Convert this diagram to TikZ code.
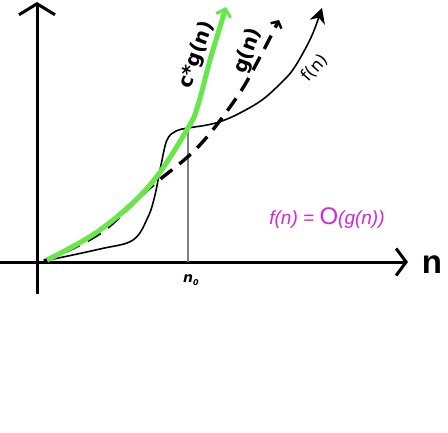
\documentclass[tikz,border=0pt]{standalone}
\usepackage{fontspec}
\setmainfont{DejaVu Sans}
\newfontfamily\lib{Liberation Sans}
\usetikzlibrary{arrows.meta}
\definecolor{lgreen}{RGB}{102,232,72}
\definecolor{mag}{RGB}{214,38,214}
\begin{document}
\begin{tikzpicture}[x=1pt,y=-1pt,
  axis/.style={line width=3pt},
  fcurve/.style={line width=1.6pt},
  gcurve/.style={line width=3.4pt, dash pattern=on 15pt off 9pt},
  cgcurve/.style={lgreen, line width=5pt},
  lbl/.style={inner sep=0pt}]
\useasboundingbox (0,0) rectangle (448,432);
\fill[white] (0,0) rectangle (448,432);
\coordinate (ytop) at (37,2);
\coordinate (ybot) at (37,294);
\coordinate (xl) at (0,262);
\coordinate (xr) at (408,262);
\coordinate (n0top) at (188,128);
\coordinate (n0bot) at (188,262);
\draw[axis,-{Straight Barb[length=11pt,width=36pt,line width=3pt]}] (ybot) -- (ytop);
\draw[axis,-{Straight Barb[length=10pt,width=27pt,line width=3pt]}] (xl) -- (xr);
\draw[gray, line width=1.2pt] (n0top) -- (n0bot);
% f(n)
\draw[fcurve,-{Stealth[length=15pt,width=16pt]}] plot[smooth, tension=0.6] coordinates
 {(44,261) (100,249) (133,240) (148,217) (155,195) (161,165) (167,140) (176,131) (188,128) (207,125) (222,121) (240,113) (262,100) (280,84) (292,71) (303,53) (313,33) (322,8)};
% g(n)
\draw[gcurve,-{Straight Barb[length=5pt,width=12pt,line width=2.5pt]}] plot[smooth, tension=0.6] coordinates
 {(44,261) (100,233) (147,190) (197,148) (237,97) (260,57) (279,20)};
% c*g(n)
\draw[cgcurve,-{Straight Barb[length=7pt,width=15pt,line width=3pt]}] plot[smooth, tension=0.6] coordinates
 {(47,260) (100,230) (150,185) (188,128) (198,105) (210,60) (220,27) (226,7)};
\node[lbl, rotate=70, font=\bfseries\fontsize{20}{20}\selectfont] (cg) at (197,55) {c*g(n)};
\node[lbl, rotate=70, font=\bfseries\fontsize{20}{20}\selectfont] (g) at (248,51) {g(n)};
\node[lbl, rotate=48, font=\fontsize{17}{17}\selectfont] (f) at (315,68) {f(n)};
\node[lbl, font=\lib\bfseries\fontsize{33}{33}\selectfont] (n) at (432,265) {n};
\node[lbl, font=\bfseries\itshape\fontsize{14}{14}\selectfont] (n0) at (191,280) {n\raisebox{-2.5pt}{\fontsize{8}{8}\selectfont 0}};
\node[lbl, mag, font=\lib\itshape\fontsize{19}{19}\selectfont] (eq) at (327,218) {f(n) = {\upshape\fontsize{24}{24}\selectfont O}(g(n))};
\end{tikzpicture}
\end{document}
